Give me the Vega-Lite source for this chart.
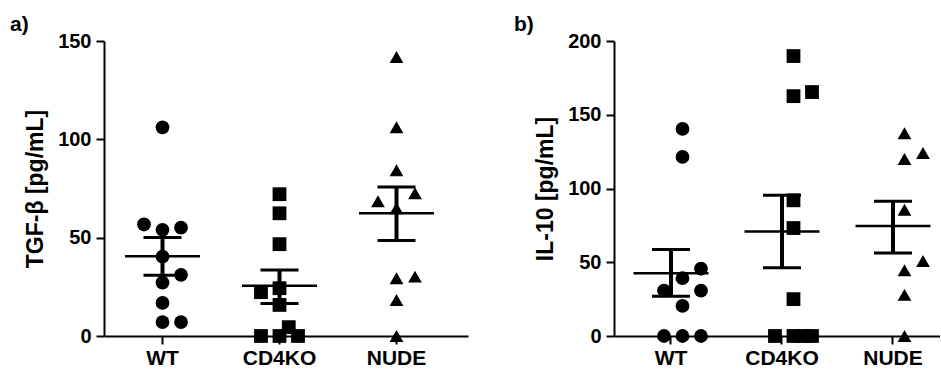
{
  "$schema": "https://vega.github.io/schema/vega-lite/v6.json",
  "padding": {"left": 10, "top": 14, "right": 0, "bottom": 0},
  "autosize": {"type": "pad"},
  "background": "white",
  "spacing": 46,
  "config": {
    "view": {"stroke": null},
    "font": "Liberation Sans",
    "axis": {
      "grid": false,
      "domainColor": "black",
      "domainWidth": 2,
      "tickColor": "black",
      "tickWidth": 2,
      "labelFont": "Liberation Sans",
      "labelFontWeight": "bold",
      "labelFontSize": 20,
      "labelColor": "black",
      "titleFont": "Liberation Sans",
      "titleFontWeight": "bold",
      "titleFontSize": 23,
      "titleColor": "black"
    },
    "axisX": {"tickSize": 8, "labelPadding": 3, "labelAngle": 0, "title": null, "labelFontSize": 21},
    "axisY": {"tickSize": 8, "labelPadding": 5, "titlePadding": 10},
    "title": {"font": "Liberation Sans", "fontWeight": "bold", "fontSize": 21, "color": "black", "anchor": "start", "frame": "group", "offset": -4}
  },
  "datasets": {
    "tgf": [
      {"group": "WT", "jitter": 0, "value": 106.1},
      {"group": "WT", "jitter": -2, "value": 56.7},
      {"group": "WT", "jitter": 0, "value": 54.0},
      {"group": "WT", "jitter": 2, "value": 55.1},
      {"group": "WT", "jitter": 0, "value": 40.4},
      {"group": "WT", "jitter": 2, "value": 31.1},
      {"group": "WT", "jitter": 0, "value": 27.2},
      {"group": "WT", "jitter": 0, "value": 16.8},
      {"group": "WT", "jitter": 0, "value": 7.1},
      {"group": "WT", "jitter": 2, "value": 7.1},
      {"group": "CD4KO", "jitter": 0, "value": 72.1},
      {"group": "CD4KO", "jitter": 0, "value": 62.4},
      {"group": "CD4KO", "jitter": 0, "value": 46.7},
      {"group": "CD4KO", "jitter": -2, "value": 22.3},
      {"group": "CD4KO", "jitter": 0, "value": 24.3},
      {"group": "CD4KO", "jitter": 0, "value": 15.8},
      {"group": "CD4KO", "jitter": -2, "value": 0},
      {"group": "CD4KO", "jitter": 0, "value": 0},
      {"group": "CD4KO", "jitter": 1, "value": 4.5},
      {"group": "CD4KO", "jitter": 2, "value": 0},
      {"group": "NUDE", "jitter": 0, "value": 141.9},
      {"group": "NUDE", "jitter": 0, "value": 106.1},
      {"group": "NUDE", "jitter": 0, "value": 84.3},
      {"group": "NUDE", "jitter": -2, "value": 68.5},
      {"group": "NUDE", "jitter": 2, "value": 72.6},
      {"group": "NUDE", "jitter": 0, "value": 65.0},
      {"group": "NUDE", "jitter": 0, "value": 29.4},
      {"group": "NUDE", "jitter": 2, "value": 30.2},
      {"group": "NUDE", "jitter": 0, "value": 18.3},
      {"group": "NUDE", "jitter": 0, "value": 0}
    ],
    "tgfSummary": [
      {"group": "WT", "mean": 40.5, "lo": 30.9, "hi": 50.1},
      {"group": "CD4KO", "mean": 25.6, "lo": 16.5, "hi": 33.5},
      {"group": "NUDE", "mean": 62.4, "lo": 48.6, "hi": 75.8}
    ],
    "il10": [
      {"group": "WT", "jitter": 0, "value": 140.4},
      {"group": "WT", "jitter": 0, "value": 121.4},
      {"group": "WT", "jitter": 2, "value": 45.6},
      {"group": "WT", "jitter": 0, "value": 39.2},
      {"group": "WT", "jitter": -2, "value": 30.8},
      {"group": "WT", "jitter": 2, "value": 30.8},
      {"group": "WT", "jitter": 0, "value": 20.4},
      {"group": "WT", "jitter": -2, "value": 0},
      {"group": "WT", "jitter": 0, "value": 0},
      {"group": "WT", "jitter": 2, "value": 0},
      {"group": "CD4KO", "jitter": 0, "value": 189.8},
      {"group": "CD4KO", "jitter": 0, "value": 162.6},
      {"group": "CD4KO", "jitter": 2, "value": 165.4},
      {"group": "CD4KO", "jitter": 0, "value": 92.0},
      {"group": "CD4KO", "jitter": 0, "value": 73.2},
      {"group": "CD4KO", "jitter": 0, "value": 25.0},
      {"group": "CD4KO", "jitter": -2, "value": 0},
      {"group": "CD4KO", "jitter": 0, "value": 0},
      {"group": "CD4KO", "jitter": 1, "value": 0},
      {"group": "CD4KO", "jitter": 2, "value": 0},
      {"group": "NUDE", "jitter": 0, "value": 137.5},
      {"group": "NUDE", "jitter": 0, "value": 120.0},
      {"group": "NUDE", "jitter": 2, "value": 124.1},
      {"group": "NUDE", "jitter": 0, "value": 85.6},
      {"group": "NUDE", "jitter": 2, "value": 50.9},
      {"group": "NUDE", "jitter": 0, "value": 44.6},
      {"group": "NUDE", "jitter": 0, "value": 27.9},
      {"group": "NUDE", "jitter": 0, "value": 0}
    ],
    "il10Summary": [
      {"group": "WT", "mean": 42.6, "lo": 27.0, "hi": 58.6},
      {"group": "CD4KO", "mean": 70.9, "lo": 46.2, "hi": 95.4},
      {"group": "NUDE", "mean": 74.5, "lo": 56.2, "hi": 91.3}
    ]
  },
  "hconcat": [
    {
      "title": {"text": "a)", "dx": -94},
      "width": 364,
      "height": 295,
      "encoding": {
        "x": {
          "field": "group",
          "type": "nominal",
          "title": null,
          "sort": ["WT", "CD4KO", "NUDE"],
          "scale": {"type": "band", "domain": ["WT", "CD4KO", "NUDE"], "paddingInner": 0, "paddingOuter": 0.0556, "align": 0}
        }
      },
      "layer": [
        {
          "data": {"name": "tgf"},
          "mark": {"type": "point", "filled": true, "opacity": 1, "color": "black", "size": 190},
          "encoding": {
            "xOffset": {"field": "jitter", "type": "quantitative", "scale": {"domain": [-6.32, 6.32]}},
            "y": {"field": "value", "type": "quantitative", "title": "TGF-β [pg/mL]", "scale": {"domain": [0, 150], "nice": false}, "axis": {"values": [0, 50, 100, 150]}},
            "shape": {"field": "group", "type": "nominal", "scale": {"domain": ["WT", "CD4KO", "NUDE"], "range": ["circle", "square", "triangle-up"]}, "legend": null}
          }
        },
        {
          "data": {"name": "tgfSummary"},
          "mark": {"type": "rule", "strokeWidth": 4, "color": "black"},
          "encoding": {
            "y": {"field": "lo", "type": "quantitative", "title": "TGF-β [pg/mL]"},
            "y2": {"field": "hi"}
          }
        },
        {
          "data": {"name": "tgfSummary"},
          "mark": {"type": "tick", "size": 75, "thickness": 2.5, "color": "black", "opacity": 1},
          "encoding": {"y": {"field": "mean", "type": "quantitative", "title": "TGF-β [pg/mL]"}}
        },
        {
          "data": {"name": "tgfSummary"},
          "mark": {"type": "tick", "size": 38, "thickness": 3, "color": "black", "opacity": 1},
          "encoding": {"y": {"field": "lo", "type": "quantitative", "title": "TGF-β [pg/mL]"}}
        },
        {
          "data": {"name": "tgfSummary"},
          "mark": {"type": "tick", "size": 38, "thickness": 3, "color": "black", "opacity": 1},
          "encoding": {"y": {"field": "hi", "type": "quantitative", "title": "TGF-β [pg/mL]"}}
        }
      ]
    },
    {
      "title": {"text": "b)", "dx": -100},
      "width": 326,
      "height": 295,
      "encoding": {
        "x": {
          "field": "group",
          "type": "nominal",
          "title": null,
          "sort": ["WT", "CD4KO", "NUDE"],
          "scale": {"type": "band", "domain": ["WT", "CD4KO", "NUDE"], "paddingInner": 0.153, "paddingOuter": 0.045, "align": 1}
        }
      },
      "layer": [
        {
          "data": {"name": "il10"},
          "mark": {"type": "point", "filled": true, "opacity": 1, "color": "black", "size": 190},
          "encoding": {
            "xOffset": {"field": "jitter", "type": "quantitative", "scale": {"domain": [-5.08, 5.08]}},
            "y": {"field": "value", "type": "quantitative", "title": "IL-10 [pg/mL]", "scale": {"domain": [0, 200], "nice": false}, "axis": {"values": [0, 50, 100, 150, 200]}},
            "shape": {"field": "group", "type": "nominal", "scale": {"domain": ["WT", "CD4KO", "NUDE"], "range": ["circle", "square", "triangle-up"]}, "legend": null}
          }
        },
        {
          "data": {"name": "il10Summary"},
          "mark": {"type": "rule", "strokeWidth": 4, "color": "black"},
          "encoding": {
            "y": {"field": "lo", "type": "quantitative", "title": "IL-10 [pg/mL]"},
            "y2": {"field": "hi"}
          }
        },
        {
          "data": {"name": "il10Summary"},
          "mark": {"type": "tick", "size": 75, "thickness": 2.5, "color": "black", "opacity": 1},
          "encoding": {"y": {"field": "mean", "type": "quantitative", "title": "IL-10 [pg/mL]"}}
        },
        {
          "data": {"name": "il10Summary"},
          "mark": {"type": "tick", "size": 38, "thickness": 3, "color": "black", "opacity": 1},
          "encoding": {"y": {"field": "lo", "type": "quantitative", "title": "IL-10 [pg/mL]"}}
        },
        {
          "data": {"name": "il10Summary"},
          "mark": {"type": "tick", "size": 38, "thickness": 3, "color": "black", "opacity": 1},
          "encoding": {"y": {"field": "hi", "type": "quantitative", "title": "IL-10 [pg/mL]"}}
        }
      ]
    }
  ]
}
